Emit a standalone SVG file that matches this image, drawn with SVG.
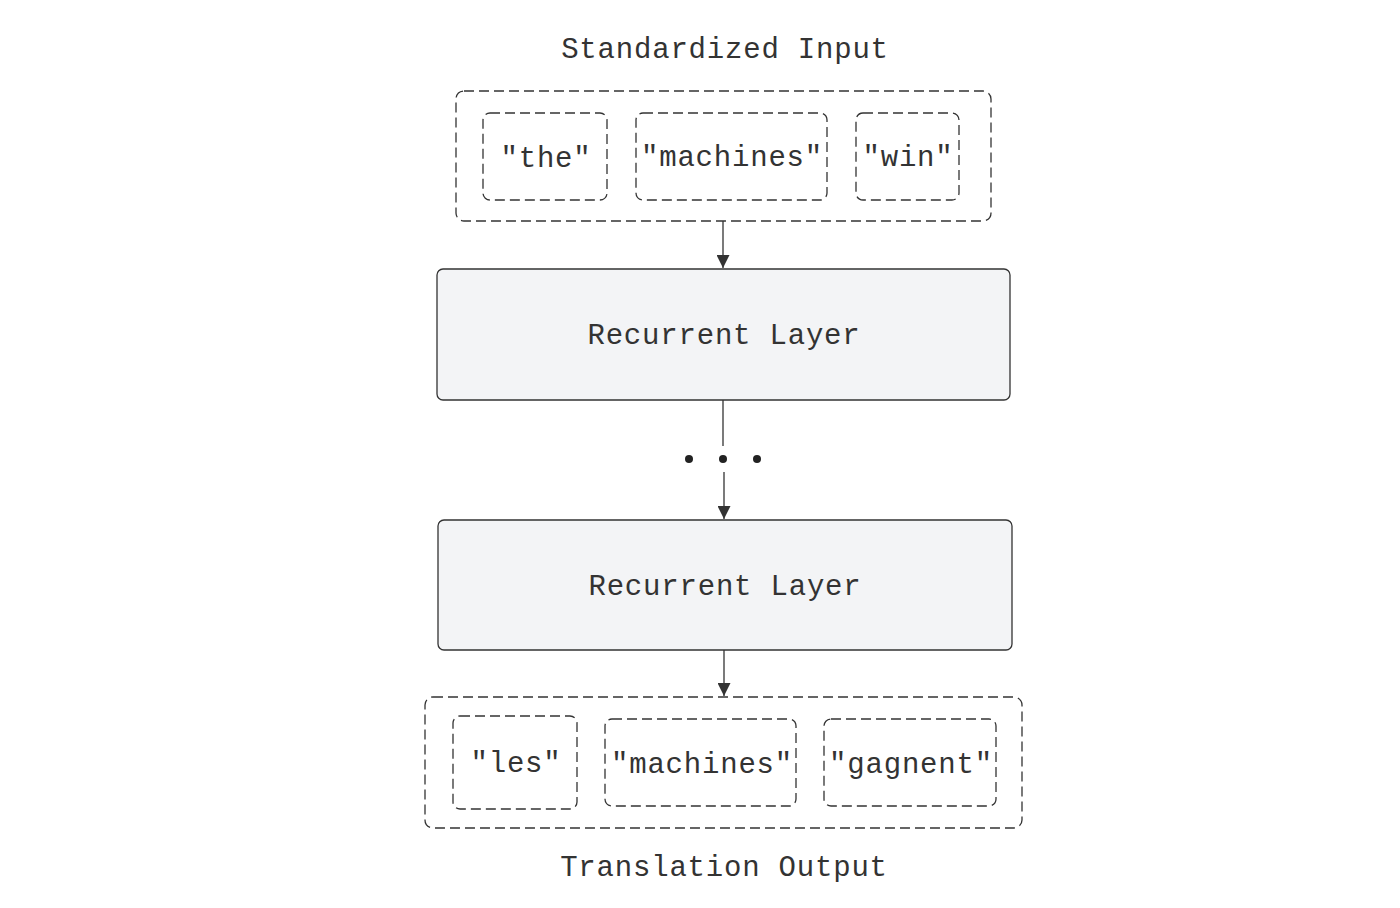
<svg xmlns="http://www.w3.org/2000/svg" width="1400" height="908" viewBox="0 0 1400 908">
<style>
text{font-family:"Liberation Mono","DejaVu Sans Mono",monospace;fill:#333;text-anchor:middle;dominant-baseline:central;font-size:29px;letter-spacing:0.8px}
.dash{fill:none;stroke:#333;stroke-width:1.3;stroke-dasharray:10 5}
.layer{fill:#f3f4f6;stroke:#333;stroke-width:1.3}
.conn{stroke:#333;stroke-width:1.3;fill:none}
</style>
<defs>
<marker id="arr" viewBox="0 0 10 10" refX="10" refY="5" markerWidth="17" markerHeight="13" markerUnits="userSpaceOnUse" orient="auto">
<path d="M0,0 L10,5 L0,10 z" fill="#333"/>
</marker>
</defs>
<rect width="1400" height="908" fill="#fff"/>
<g id="input-title"><text x="725" y="50">Standardized Input</text></g>
<g id="input-group">
<rect class="dash" x="456" y="91" width="535" height="130" rx="8"/>
</g>
<g id="in-the"><rect class="dash" x="483" y="113" width="124" height="87" rx="7"/><text x="546" y="159">"the"</text></g>
<g id="in-machines"><rect class="dash" x="636" y="113" width="191" height="87" rx="7"/><text x="732" y="158">"machines"</text></g>
<g id="in-win"><rect class="dash" x="856" y="113" width="103" height="87" rx="7"/><text x="908" y="158">"win"</text></g>
<g id="layer1"><rect class="layer" x="437" y="269" width="573" height="131" rx="6"/><text x="724" y="336">Recurrent Layer</text></g>
<g id="ellipsis"><circle cx="689" cy="459" r="4" fill="#222"/><circle cx="723" cy="459" r="4" fill="#222"/><circle cx="757" cy="459" r="4" fill="#222"/></g>
<g id="layer2"><rect class="layer" x="438" y="520" width="574" height="130" rx="6"/><text x="725" y="587">Recurrent Layer</text></g>
<g id="output-group">
<rect class="dash" x="425" y="697" width="597" height="131" rx="8"/>
</g>
<g id="out-les"><rect class="dash" x="453" y="716" width="124" height="93" rx="7"/><text x="516" y="764">"les"</text></g>
<g id="out-machines"><rect class="dash" x="605" y="719" width="191" height="87" rx="7"/><text x="702" y="765">"machines"</text></g>
<g id="out-gagnent"><rect class="dash" x="824" y="719" width="172" height="87" rx="7"/><text x="911" y="765">"gagnent"</text></g>
<g id="output-title"><text x="724" y="868">Translation Output</text></g>
<g id="connectors">
<line class="conn" x1="723" y1="221" x2="723" y2="268" marker-end="url(#arr)"/>
<line class="conn" x1="723" y1="400" x2="723" y2="446"/>
<line class="conn" x1="724" y1="472" x2="724" y2="519" marker-end="url(#arr)"/>
<line class="conn" x1="724" y1="650" x2="724" y2="696" marker-end="url(#arr)"/>
</g>
</svg>
